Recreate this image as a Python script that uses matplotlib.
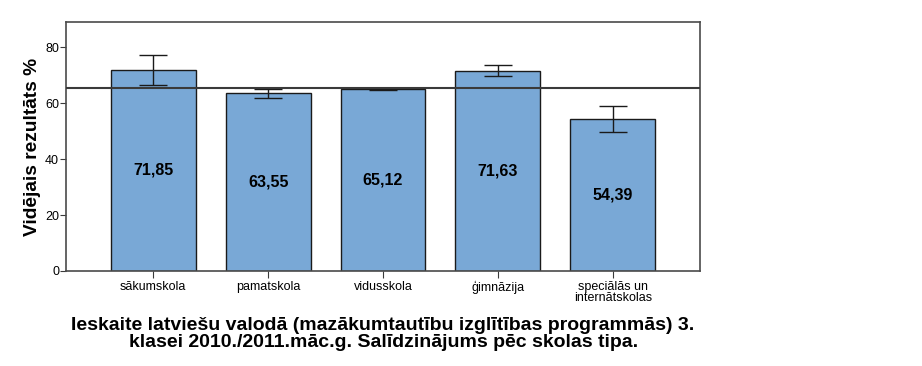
import matplotlib
matplotlib.use("Agg")
import matplotlib.pyplot as plt
import numpy as np

plt.rcParams['font.family'] = ['Liberation Sans', 'DejaVu Sans']

# dati nolasīti no attēla
skolu_tipi = ["sākumskola", "pamatskola", "vidusskola", "ģimnāzija", "speciālās un\ninternātskolas"]
videjais = [71.85, 63.55, 65.12, 71.63, 54.39]
kluda = [5.4, 1.6, 0.4, 1.9, 4.7]          # kļūdu stabiņu pusgarums
kopejais_videjais = 65.5                    # horizontālā līnija
y_ticks = [0, 20, 40, 60, 80]
virsraksts = ("Ieskaite latviešu valodā (mazākumtautību izglītības programmās) 3.\n"
              "klasei 2010./2011.māc.g. Salīdzinājums pēc skolas tipa.")

fig = plt.figure(figsize=(9.22, 3.66), dpi=100)
ax = fig.add_axes([0.0716, 0.2596, 0.6876, 0.6804])

x = np.arange(len(skolu_tipi))
bars = ax.bar(x, videjais, width=0.74, color="#79a8d6", edgecolor="#1a1a1a", linewidth=1.0, zorder=2)
ax.errorbar(x, videjais, yerr=kluda, fmt="none", ecolor="#1a1a1a", elinewidth=1.0,
            capsize=10, capthick=1.0, zorder=3)
ax.axhline(kopejais_videjais, color="#3a3a3a", linewidth=1.5, zorder=4)

# vērtības stabiņu vidū
for xi, v in zip(x, videjais):
    ax.text(xi, v / 2, f"{v:.2f}".replace(".", ","), ha="center", va="center",
            fontsize=11.5, fontweight="bold", color="black", zorder=5)

ax.set_xlim(-0.76, 4.76)
ax.set_ylim(0, 89)
ax.set_yticks(y_ticks)
ax.set_xticks(x)
ax.set_xticklabels(skolu_tipi, fontsize=9, linespacing=0.95)
ax.tick_params(axis="y", labelsize=9, length=4, color="#3a3a3a", pad=1)
ax.tick_params(axis="x", length=5, color="#3a3a3a", pad=2)
for s in ax.spines.values():
    s.set_color("#4a4a4a")
    s.set_linewidth(1.2)

ax.set_ylabel("Vidējais rezultāts %", fontsize=13.8, fontweight="bold", labelpad=3)

fig.text(0.4155, 0.134, virsraksts, ha="center", va="top", fontsize=14,
         fontweight="bold", linespacing=0.98)

fig.savefig("out.png", dpi=100)
